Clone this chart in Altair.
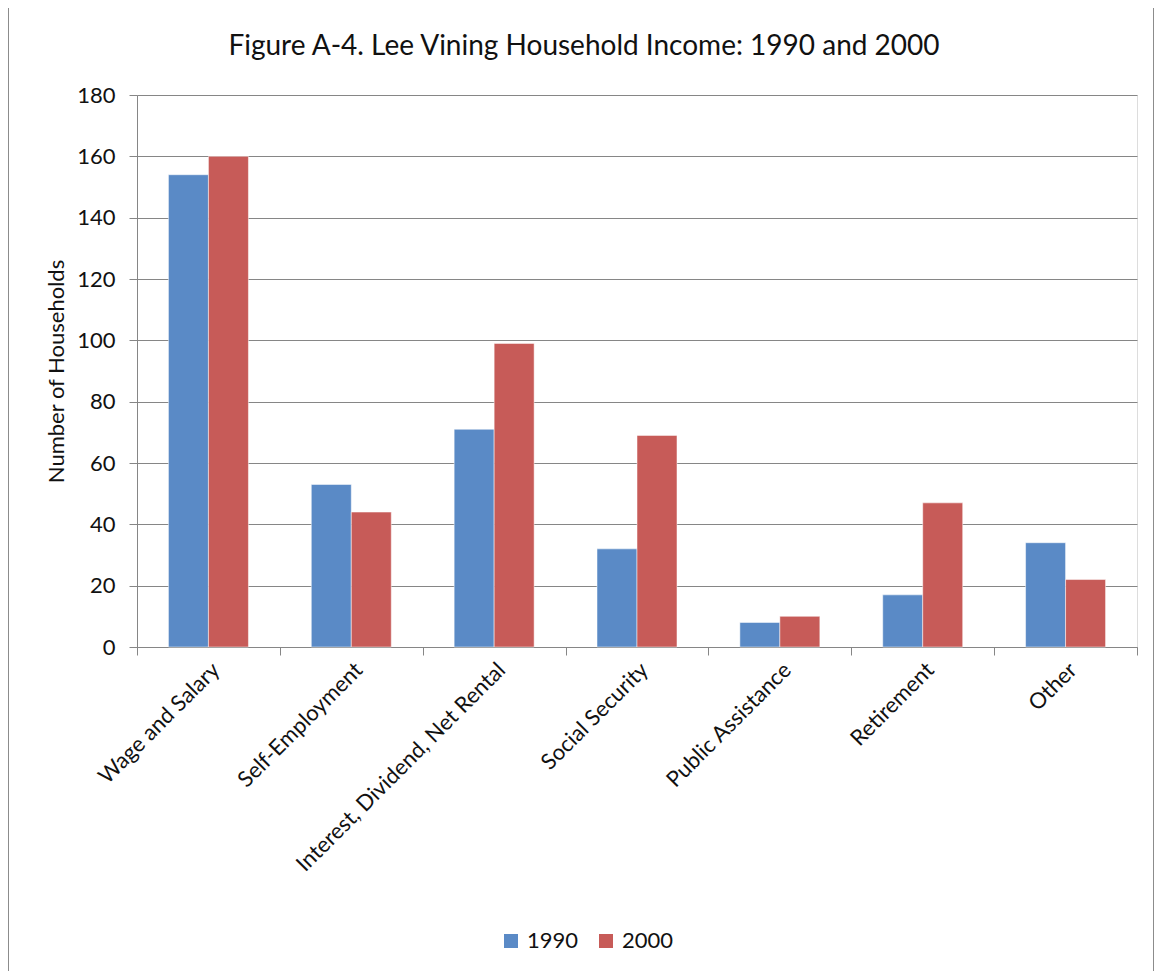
import altair as alt
import pandas as pd

categories = ["Wage and Salary", "Self-Employment", "Interest, Dividend, Net Rental",
              "Social Security", "Public Assistance", "Retirement", "Other"]
values_1990 = [154, 53, 71, 32, 8, 17, 34]
values_2000 = [160, 44, 99, 69, 10, 47, 22]
years = ["1990", "2000"]
colors = ["#5A8AC6", "#C75B58"]
y_ticks = [0, 20, 40, 60, 80, 100, 120, 140, 160, 180]
title_text = "Figure A-4. Lee Vining Household Income: 1990 and 2000"

rows = []
for c, a, b in zip(categories, values_1990, values_2000):
    rows.append({"category": c, "year": "1990", "value": a})
    rows.append({"category": c, "year": "2000", "value": b})
df = pd.DataFrame(rows)

W, H = 1000, 552
FONT = "Lato"
GRID = "#868686"
TXT = "#111111"
LFS = 22

bars = alt.Chart(df).mark_bar(stroke="white", strokeWidth=0.5).encode(
    x=alt.X("category:N", sort=categories,
            scale=alt.Scale(paddingInner=0, paddingOuter=0),
            axis=alt.Axis(title=None, labelAngle=-45, labelFontSize=LFS, labelFont=FONT,
                          labelColor=TXT, tickBand="extent", tickSize=8,
                          tickColor=GRID, domainColor=GRID, labelPadding=4,
                          labelLimit=500, grid=False)),
    xOffset=alt.XOffset("year:N", scale=alt.Scale(paddingInner=0, paddingOuter=0.786)),
    y=alt.Y("value:Q", scale=alt.Scale(domain=[0, 180], nice=False),
            axis=alt.Axis(title="Number  of Households", values=y_ticks, titleFontSize=LFS,
                          titleFont=FONT, titleFontWeight="normal", titleColor=TXT,
                          titlePadding=8, labelFontSize=LFS, labelFont=FONT,
                          labelColor=TXT, tickSize=8, tickColor=GRID,
                          domainColor=GRID, gridColor=GRID, labelPadding=14)),
    color=alt.Color("year:N", scale=alt.Scale(domain=years, range=colors),
                    legend=alt.Legend(title=None, orient="none", legendX=363, legendY=835,
                                      direction="horizontal", symbolType="square",
                                      symbolSize=196, symbolStrokeWidth=0,
                                      labelFontSize=LFS, labelFont=FONT,
                                      labelColor=TXT, columnPadding=16,
                                      labelOffset=5)),
)

border = alt.Chart(pd.DataFrame({"a": [0]})).mark_rect(
    fill=None, stroke="#8c8c8c", strokeWidth=1
).encode(
    x=alt.value(-128.5), x2=alt.value(W + 16.5),
    y=alt.value(-87.5), y2=alt.value(H + 400),
)

title = alt.Chart(pd.DataFrame({"t": [title_text]})).mark_text(
    font=FONT, fontSize=28, color=TXT, align="center", baseline="alphabetic"
).encode(text="t:N", x=alt.value(447), y=alt.value(-40))

chart = alt.layer(border, bars, title).properties(
    width=W, height=H,
    autosize=alt.AutoSizeParams(type="none"),
    padding={"left": 129, "top": 87, "right": 18, "bottom": 324},
).configure_view(stroke=None).configure(background="white")

chart.save("out.html", embed_options={"renderer": "svg", "actions": False})
